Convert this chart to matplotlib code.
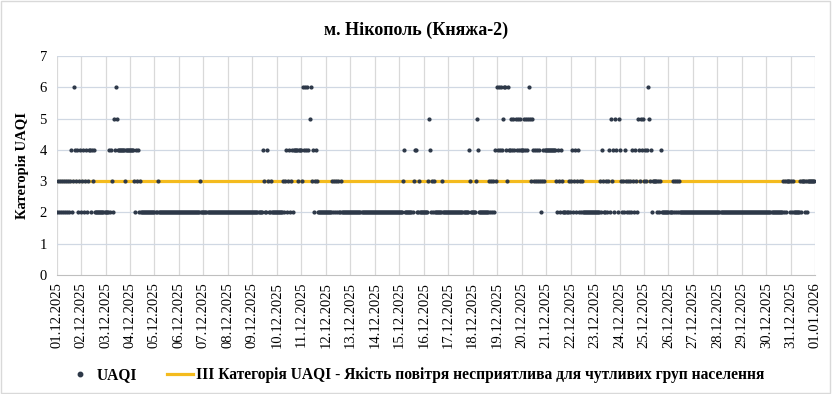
import matplotlib.pyplot as plt
import numpy as np
from matplotlib.patches import Rectangle

plt.rcParams['font.family'] = ['Liberation Serif', 'DejaVu Serif']

# tick labels (one per day boundary)
day_labels = [
    '01.12.2025', '02.12.2025', '03.12.2025', '04.12.2025', '05.12.2025',
    '06.12.2025', '07.12.2025', '08.12.2025', '09.12.2025', '10.12.2025',
    '11.12.2025', '12.12.2025', '13.12.2025', '14.12.2025', '15.12.2025',
    '16.12.2025', '17.12.2025', '18.12.2025', '19.12.2025', '20.12.2025',
    '21.12.2025', '22.12.2025', '23.12.2025', '24.12.2025', '25.12.2025',
    '26.12.2025', '27.12.2025', '28.12.2025', '29.12.2025', '30.12.2025',
    '31.12.2025', '01.01.2026',
]

# hourly UAQI category, one string of 24 hours per day
uaqi_by_day = [
    '232323232323234236434234',  # 01.12
    '234234234424342222222222',  # 02.12
    '222424325465444444434444',  # 03.12
    '444432434232222222222222',  # 04.12
    '222322222222222222222222',  # 05.12
    '222222222222222222222322',  # 06.12
    '222222222222222222222222',  # 07.12
    '222222222222222222222222',  # 08.12
    '222222222243224322322222',  # 09.12
    '222222323423423424444344',  # 10.12
    '436464645634234322222222',  # 11.12
    '222222323232322322222222',  # 12.12
    '222222222222222222222222',  # 13.12
    '222222222222222222222222',  # 14.12
    '222234222222223442232222',  # 15.12
    '222235423232222222322222',  # 16.12
    '222222222222222222224322',  # 17.12
    '222354222222222232323243',  # 18.12
    '646464566436445454545454',  # 19.12
    '445454565354343434323434',  # 20.12
    '444444444432432432222232',  # 21.12
    '342342342323222222222222',  # 22.12
    '222223243223234253425425',  # 23.12
    '432324323232432432543545',  # 24.12
    '343465342333323234222222',  # 25.12
    '222232323232222222222222',  # 26.12
    '222222222222222222222222',  # 27.12
    '222222222222222222222222',  # 28.12
    '222222222222222222222222',  # 29.12
    '222222222222222232323332',  # 30.12
    '323222222323332323333333',  # 31.12
]

threshold_level = 3
threshold_label = 'III Категорія UAQI - Якість повітря несприятлива для чутливих груп населення'

values = [int(c) for day in uaqi_by_day for c in day]
x = np.arange(len(values)) / 24.0
n_days = len(uaqi_by_day)

fig = plt.figure(figsize=(8.32, 3.94), dpi=100)
ax = fig.add_axes([0.068, 0.302, 0.912, 0.556])

# threshold line behind the points
ax.plot([0, n_days], [threshold_level, threshold_level], color='#F4BB1E',
        lw=2.3, label=threshold_label, zorder=2)
ax.plot(x, values, 'o', ms=2.0, color='#2D3848', lw=0, label='UAQI',
        zorder=3)

ax.set_xlim(0, n_days)
ax.set_ylim(0, 7)
ax.set_xticks(range(n_days + 1))
ax.set_xticklabels(day_labels, rotation=90, fontsize=10.5)
ax.set_yticks(range(8))
ax.tick_params(axis='y', labelsize=10.5, length=0, pad=7)
ax.tick_params(axis='x', length=0, pad=5)

for v in range(n_days + 1):
    ax.axvline(v, color='#D9D9D9', lw=0.9, zorder=0)
for v in range(1, 8):
    ax.axhline(v, color='#D0D8E3', lw=0.9, zorder=1)
for s in ['top', 'right', 'left']:
    ax.spines[s].set_visible(False)
ax.spines['bottom'].set_color('#BFBFBF')

ax.set_ylabel('Категорія UAQI', fontsize=10.5, fontweight='bold')
ax.yaxis.set_label_coords(-0.037, 0.5)

fig.text(0.5, 0.924, 'м. Нікополь (Княжа-2)', ha='center', va='center',
         fontsize=13, fontweight='bold')

handles, labels = ax.get_legend_handles_labels()
leg = fig.legend(handles[::-1], labels[::-1], loc='center',
                 bbox_to_anchor=(0.5, 0.048), ncol=2, frameon=False,
                 prop={'weight': 'bold', 'size': 11.2}, columnspacing=1.9,
                 handlelength=1.7, handletextpad=0.2, markerscale=1.6)

fig.patches.append(Rectangle((0.001, 0.002), 0.997, 0.995,
                             transform=fig.transFigure, fill=False,
                             edgecolor='#D9D9D9', lw=1))

fig.savefig('out.png', dpi=100)
